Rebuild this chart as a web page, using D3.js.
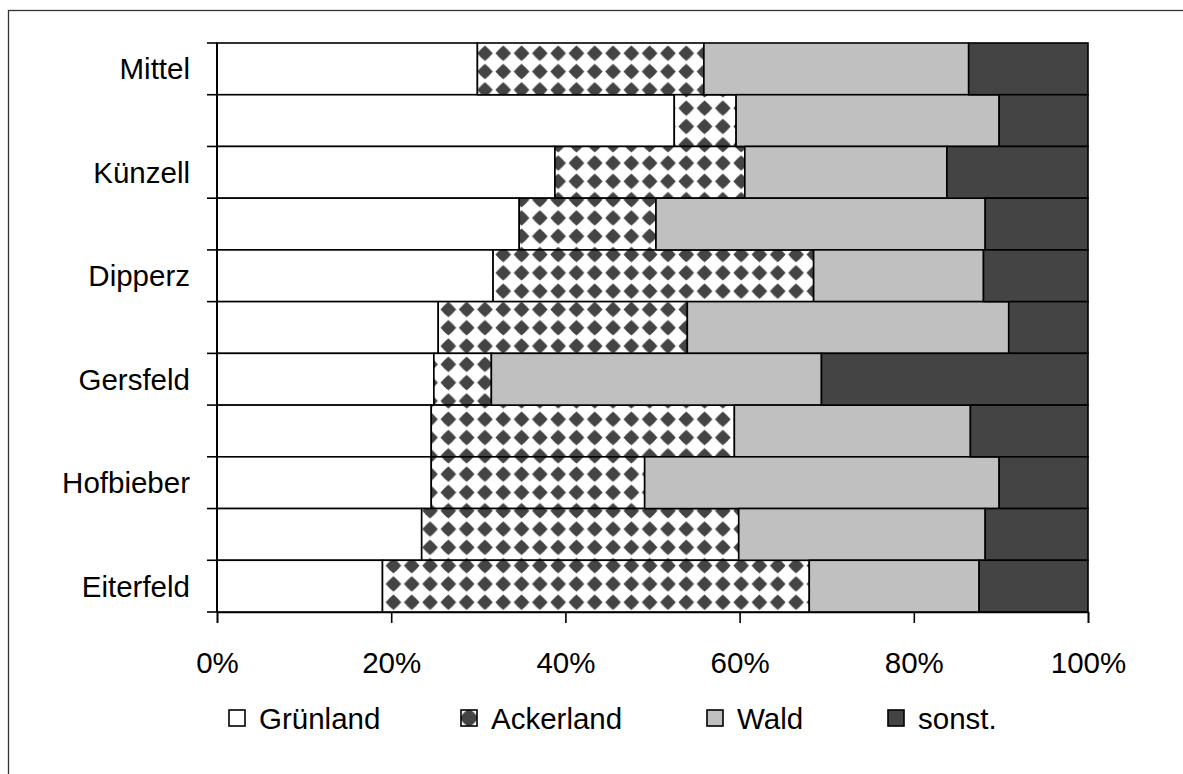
<!DOCTYPE html>
<html>
<head>
<meta charset="utf-8">
<script src="https://cdn.jsdelivr.net/npm/d3@7"></script>
<style>
  html, body { margin: 0; padding: 0; background: #fff; }
  svg { display: block; }
  text { font-family: "Liberation Sans", Arial, sans-serif; fill: #000; }
</style>
</head>
<body>
<svg id="chart" width="1183" height="774"></svg>
<script>
// Categories (top to bottom); unlabeled rows have no visible name
const categories = ["Mittel", "", "Künzell", "", "Dipperz", "", "Gersfeld", "", "Hofbieber", "", "Eiterfeld"];
const seriesNames = ["Grünland", "Ackerland", "Wald", "sonst."];
// Shares in percent per row
const gruenland = [29.9, 52.5, 38.8, 34.7, 31.7, 25.4, 24.9, 24.6, 24.6, 23.5, 19.0];
const ackerland = [26.0,  7.1, 21.8, 15.7, 36.8, 28.6,  6.6, 34.8, 24.5, 36.4, 49.0];
const wald      = [30.4, 30.2, 23.2, 37.8, 19.5, 36.9, 37.9, 27.1, 40.7, 28.3, 19.5];
const sonst     = [13.7, 10.2, 16.2, 11.8, 12.0,  9.1, 30.6, 13.5, 10.2, 11.8, 12.5];
const xTicks = [0, 20, 40, 60, 80, 100];

const rows = categories.map((c, i) => ({
  id: i, name: c,
  "Grünland": gruenland[i], "Ackerland": ackerland[i], "Wald": wald[i], "sonst.": sonst[i]
}));

const svg = d3.select("#chart");
const x = d3.scaleLinear().domain([0, 100]).range([217, 1088]);
const y = d3.scaleBand().domain(rows.map(d => d.id)).range([43, 612]).padding(0);

// patterns
const defs = svg.append("defs");
const P = 18.3;
function makePattern(id, ox, oy, r, k) {
  const pat = defs.append("pattern").attr("id", id)
    .attr("patternUnits", "userSpaceOnUse").attr("width", P).attr("height", P)
    .attr("x", ox).attr("y", oy);
  pat.append("rect").attr("width", P).attr("height", P).attr("fill", "#fff");
  const c = P / 2;
  pat.append("path")
    .attr("d", `M${c},${c - r} Q${c + r * k},${c - r * k} ${c + r},${c} Q${c + r * k},${c + r * k} ${c},${c + r} Q${c - r * k},${c + r * k} ${c - r},${c} Q${c - r * k},${c - r * k} ${c},${c - r}Z`)
    .attr("fill", "#444");
}
makePattern("checker", 0, 7.5, 7.8, 0.55);

const fills = { "Grünland": "#ffffff", "Ackerland": "url(#checker)", "Wald": "#c0c0c0", "sonst.": "#444444" };

// outer frame
svg.append("rect").attr("x", 8.5).attr("y", 10.5).attr("width", 1250).attr("height", 900)
  .attr("fill", "none").attr("stroke", "#333").attr("stroke-width", 1.3);

const stacked = d3.stack().keys(seriesNames)(rows);

svg.append("g").selectAll("g").data(stacked).join("g")
  .attr("fill", d => fills[d.key])
  .selectAll("rect").data(d => d).join("rect")
  .attr("x", d => x(d[0]))
  .attr("y", d => y(d.data.id))
  .attr("width", d => x(d[1]) - x(d[0]))
  .attr("height", y.bandwidth())
  .attr("stroke", "#000").attr("stroke-width", 1.6);

// y axis
const yAxisG = svg.append("g");
yAxisG.append("line").attr("x1", x(0)).attr("x2", x(0)).attr("y1", 43).attr("y2", 612)
  .attr("stroke", "#000").attr("stroke-width", 2);
const bounds = rows.map(d => y(d.id)).concat([y(rows[rows.length - 1].id) + y.bandwidth()]);
yAxisG.selectAll("line.tk").data(bounds).join("line").attr("class", "tk")
  .attr("x1", x(0) - 10).attr("x2", x(0)).attr("y1", d => d).attr("y2", d => d)
  .attr("stroke", "#000").attr("stroke-width", 1.6);
yAxisG.selectAll("text").data(rows).join("text")
  .attr("x", 190).attr("y", d => y(d.id) + y.bandwidth() / 2)
  .attr("dy", "0.36em").attr("text-anchor", "end")
  .attr("font-size", 29.5)
  .text(d => d.name);

// x axis
const xAxisG = svg.append("g").attr("transform", "translate(0,612)")
  .call(d3.axisBottom(x).tickValues(xTicks).tickFormat(d => d + "%").tickSize(11).tickPadding(29));
xAxisG.select(".domain").attr("stroke", "#000").attr("stroke-width", 1.6);
xAxisG.selectAll(".tick line").attr("stroke", "#000").attr("stroke-width", 1.6);
xAxisG.selectAll(".tick text").attr("font-size", 29.5).attr("fill", "#000")
  .attr("font-family", "Liberation Sans, Arial, sans-serif");

// legend
const legendX = [229, 461, 707, 888];
const legY = 710, legS = 16;
makePattern("checkerLeg", legS / 2 - P / 2, legY + legS / 2 - P / 2, 9.5, 0.6);
const legFills = Object.assign({}, fills, { "Ackerland": "url(#checkerLeg)" });
const leg = svg.append("g").selectAll("g").data(seriesNames).join("g")
  .attr("transform", (d, i) => `translate(${legendX[i]},0)`);
leg.append("rect").attr("x", 0).attr("y", legY).attr("width", legS).attr("height", legS)
  .attr("fill", d => legFills[d]).attr("stroke", "#000").attr("stroke-width", 1.6);
leg.append("text").attr("x", 30).attr("y", 729).attr("font-size", 29.5).text(d => d);
</script>
</body>
</html>
